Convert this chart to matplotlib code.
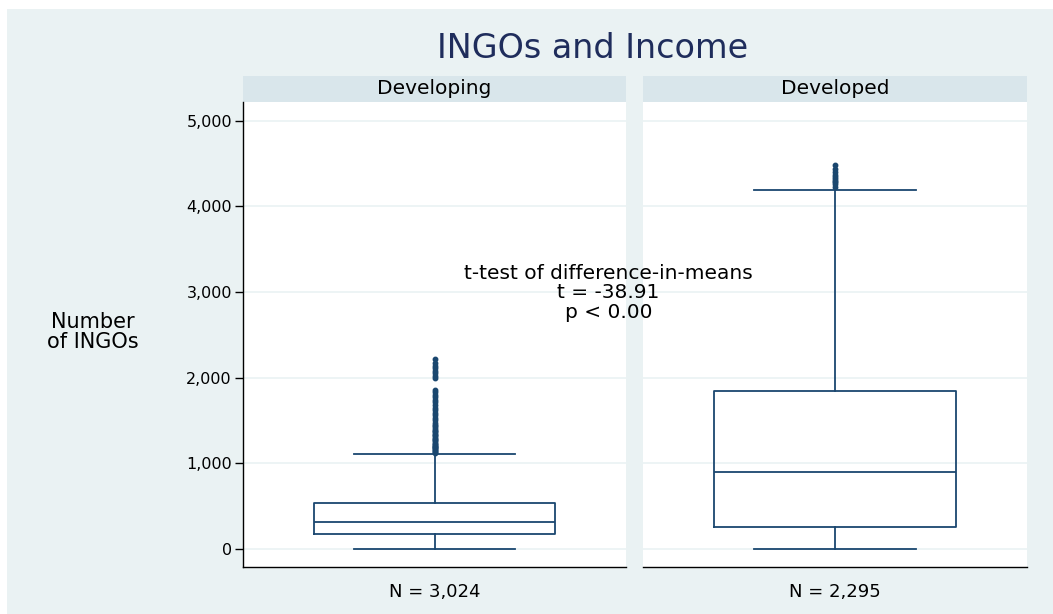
import matplotlib
matplotlib.use("Agg")
import matplotlib.pyplot as plt
from matplotlib.patches import Rectangle
from matplotlib.ticker import FuncFormatter

# Income groups and their box-plot summaries (number of INGOs)
groups = ["Developing", "Developed"]
n_obs = ["3,024", "2,295"]
q1 = [172, 260]
median = [319, 902]
q3 = [540, 1845]
whisker_low = [0, 0]
whisker_high = [1109, 4191]
outliers_developing = [1125, 1135, 1145, 1155, 1165, 1175, 1185, 1195, 1205,
                       1215, 1225, 1240, 1255, 1270, 1285, 1300, 1315, 1330,
                       1345, 1360, 1375, 1390, 1410, 1430, 1450, 1475, 1500,
                       1530, 1560, 1590, 1620, 1650, 1680, 1710, 1740, 1770,
                       1800, 1830, 1860, 1990, 2020, 2050, 2080, 2110, 2140,
                       2170, 2215]
outliers_developed = [4230, 4255, 4280, 4300, 4320, 4345, 4370, 4400, 4430,
                      4480]
y_ticks = [0, 1000, 2000, 3000, 4000, 5000]
ttest_lines = ["t-test of difference-in-means", "t = -38.91", "p < 0.00"]

BG = "#eaf2f3"
STRIP = "#d9e6eb"
NAVY = "#1a476f"
TITLE = "#1f2d5c"

plt.rcParams["font.family"] = ["DejaVu Sans"]

fig = plt.figure(figsize=(10.53, 6.14), dpi=100, facecolor="white")
fig.patches.append(Rectangle((7 / 1053, 0), 1, 1 - 9 / 614,
                             transform=fig.transFigure, facecolor=BG,
                             edgecolor="none", zorder=-10))

bottom, height = 0.0770, 0.7564
ax_left = fig.add_axes([0.2308, bottom, 0.3637, height])
ax_right = fig.add_axes([0.6106, bottom, 0.3647, height], sharey=ax_left)

fliers = [outliers_developing, outliers_developed]
for i, ax in enumerate([ax_left, ax_right]):
    stats = [dict(med=median[i], q1=q1[i], q3=q3[i],
                  whislo=whisker_low[i], whishi=whisker_high[i],
                  fliers=fliers[i])]
    ax.set_facecolor("white")
    ax.set_xlim(0, 1)
    ax.set_ylim(-207, 5214)
    ax.set_yticks(y_ticks)
    ax.grid(axis="y", color=BG, linewidth=1.2, zorder=0)
    ax.set_axisbelow(True)
    line_kw = dict(color=NAVY, linewidth=1.3)
    ax.bxp(stats, positions=[0.5], widths=0.63, capwidths=0.42,
           boxprops=line_kw, medianprops=line_kw, whiskerprops=line_kw,
           capprops=line_kw,
           flierprops=dict(marker="o", markersize=3.2,
                           markerfacecolor=NAVY, markeredgecolor=NAVY,
                           linestyle="none"),
           manage_ticks=False)
    ax.set_xticks([])
    for side in ["top", "right"]:
        ax.spines[side].set_visible(False)
    ax.spines["bottom"].set_color("black")
    ax.spines["bottom"].set_linewidth(1.0)

    # panel header strip
    ax.add_patch(Rectangle((0, 1.0), 1, 0.0573, transform=ax.transAxes,
                           facecolor=STRIP, edgecolor="none", clip_on=False))
    ax.text(0.5, 1.0287, groups[i], transform=ax.transAxes, ha="center",
            va="center", fontsize=14.5, color="black")
    ax.text(0.5, -0.0545, f"N = {n_obs[i]}", transform=ax.transAxes,
            ha="center", va="center", fontsize=13, color="black")

ax_left.spines["left"].set_color("black")
ax_left.spines["left"].set_linewidth(1.0)
ax_left.yaxis.set_major_formatter(FuncFormatter(lambda v, p: f"{int(v):,}"))
ax_left.tick_params(axis="y", length=6, width=1, pad=2, labelsize=11.5,
                    colors="black")
ax_right.spines["left"].set_visible(False)
ax_right.tick_params(axis="y", left=False, labelleft=False)

fig.text(0.5627, 0.921, "INGOs and Income", ha="center", va="center",
         fontsize=24, color=TITLE)
fig.text(0.088, 0.459, "Number\nof INGOs", ha="center", va="center",
         fontsize=15, linespacing=1.0, color="black")
fig.text(0.578, 0.523, "\n".join(ttest_lines), ha="center", va="center",
         multialignment="center", fontsize=14.5, linespacing=1.05,
         color="black")

fig.savefig("out.png", dpi=100, facecolor=fig.get_facecolor())
